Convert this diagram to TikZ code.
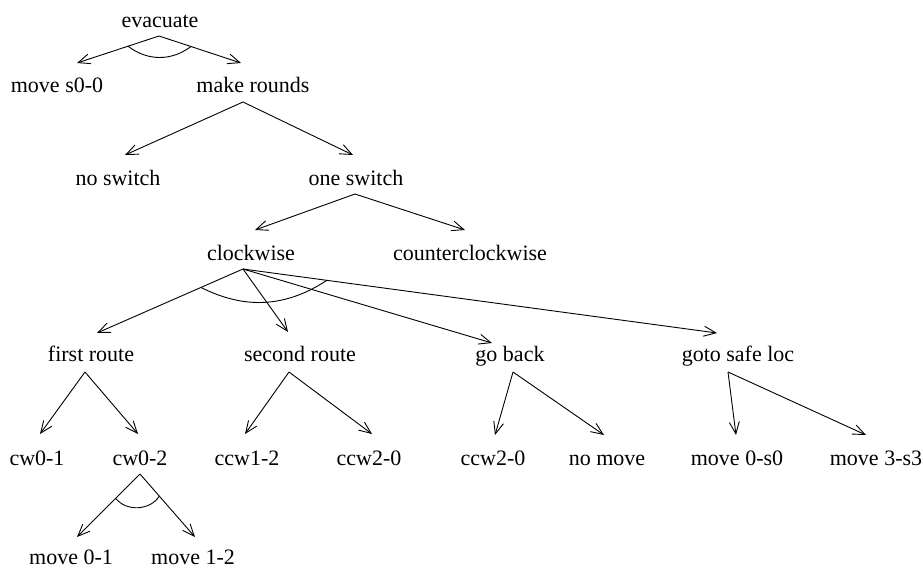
\documentclass[tikz,border=0pt]{standalone}
\usepackage{fontspec}
\setmainfont{Liberation Serif}
\usetikzlibrary{arrows.meta,calc}

\tikzset{
  lbl/.style={anchor=base, inner sep=0pt, font=\fontsize{22}{26}\selectfont},
  edge/.style={line width=0.9pt, -{Straight Barb[length=12pt,width=10pt,line width=0.9pt]}},
  andarc/.style={line width=0.9pt},
}

\begin{document}
\begin{tikzpicture}[x=1pt,y=-1pt]
\useasboundingbox (0,0) rectangle (923,568);

% ---- labels (placed on their baselines) ----
\node[lbl] (evacuate)    at (160,27)  {evacuate};
\node[lbl] (moveS)       at (57,92)   {move s0-0};
\node[lbl] (makeRounds)  at (253,92)  {make rounds};
\node[lbl] (noSwitch)    at (118,185) {no switch};
\node[lbl] (oneSwitch)   at (356,185) {one switch};
\node[lbl] (cw)          at (251,260) {clockwise};
\node[lbl] (ccw)         at (470,260) {counterclockwise};
\node[lbl] (firstRoute)  at (91,361)  {first route};
\node[lbl] (secondRoute) at (300,361) {second route};
\node[lbl] (goBack)      at (510,361) {go back};
\node[lbl] (gotoSafe)    at (738,361) {goto safe loc};
\node[lbl] (cw01)        at (37,465)  {cw0-1};
\node[lbl] (cw02)        at (140,465) {cw0-2};
\node[lbl] (ccw12)       at (247,465) {ccw1-2};
\node[lbl] (ccw20a)      at (369,465) {ccw2-0};
\node[lbl] (ccw20b)      at (493,465) {ccw2-0};
\node[lbl] (noMove)      at (607,465) {no move};
\node[lbl] (move0s0)     at (737,465) {move 0-s0};
\node[lbl] (move3s3)     at (876,465) {move 3-s3};
\node[lbl] (move01)      at (71,564)  {move 0-1};
\node[lbl] (move12)      at (193,564) {move 1-2};

% ---- connector end points ----
\coordinate (evacuate-out)    at (159,36);
\coordinate (moveS-in)        at (77,63);
\coordinate (makeRounds-in)   at (241,63);
\coordinate (makeRounds-out)  at (243,102);
\coordinate (noSwitch-in)     at (125,155);
\coordinate (oneSwitch-in)    at (353,155);
\coordinate (oneSwitch-out)   at (355,194);
\coordinate (cw-in)           at (255,230);
\coordinate (ccw-in)          at (465,230);
\coordinate (cw-out)          at (243,269);
\coordinate (firstRoute-in)   at (97,333);
\coordinate (secondRoute-in)  at (288,332);
\coordinate (goBack-in)       at (492,343);
\coordinate (gotoSafe-in)     at (717,333);
\coordinate (firstRoute-out)  at (85,372);
\coordinate (cw01-in)         at (40,434);
\coordinate (cw02-in)         at (138,434);
\coordinate (secondRoute-out) at (289,372);
\coordinate (ccw12-in)        at (245,434);
\coordinate (ccw20a-in)       at (372,434);
\coordinate (goBack-out)      at (513,372);
\coordinate (ccw20b-in)       at (495,435);
\coordinate (noMove-in)       at (604,435);
\coordinate (gotoSafe-out)    at (728,372);
\coordinate (move0s0-in)      at (736,435);
\coordinate (move3s3-in)      at (866,435);
\coordinate (cw02-out)        at (140,474);
\coordinate (move01-in)       at (77,537);
\coordinate (move12-in)       at (195,537);

% ---- connectors ----
\draw[edge] (evacuate-out) -- (moveS-in);
\draw[edge] (evacuate-out) -- (makeRounds-in);
\draw[edge] (makeRounds-out) -- (noSwitch-in);
\draw[edge] (makeRounds-out) -- (oneSwitch-in);
\draw[edge] (oneSwitch-out) -- (cw-in);
\draw[edge] (oneSwitch-out) -- (ccw-in);
\draw[edge] (cw-out) -- (firstRoute-in);
\draw[edge] (cw-out) -- (secondRoute-in);
\draw[edge] (cw-out) -- (goBack-in);
\draw[edge] (cw-out) -- (gotoSafe-in);
\draw[edge] (firstRoute-out) -- (cw01-in);
\draw[edge] (firstRoute-out) -- (cw02-in);
\draw[edge] (secondRoute-out) -- (ccw12-in);
\draw[edge] (secondRoute-out) -- (ccw20a-in);
\draw[edge] (goBack-out) -- (ccw20b-in);
\draw[edge] (goBack-out) -- (noMove-in);
\draw[edge] (gotoSafe-out) -- (move0s0-in);
\draw[edge] (gotoSafe-out) -- (move3s3-in);
\draw[edge] (cw02-out) -- (move01-in);
\draw[edge] (cw02-out) -- (move12-in);

% ---- AND arcs across the branches ----
\draw[andarc] ($(evacuate-out)!0.378!(moveS-in)$) to[bend right=37]
              ($(evacuate-out)!0.39!(makeRounds-in)$);
\draw[andarc] ($(cw-out)!0.288!(firstRoute-in)$) to[bend right=30]
              ($(cw-out)!0.177!(gotoSafe-in)$);
\draw[andarc] ($(cw02-out)!0.386!(move01-in)$) to[bend right=55]
              ($(cw02-out)!0.351!(move12-in)$);
\end{tikzpicture}
\end{document}
